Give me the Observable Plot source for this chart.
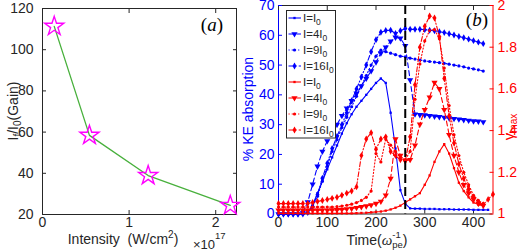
<!DOCTYPE html>
<html><head><meta charset="utf-8">
<script src="https://cdn.jsdelivr.net/npm/d3@7"></script>
<script src="https://cdn.jsdelivr.net/npm/@observablehq/plot@0.6"></script>
<style>
html,body{margin:0;padding:0;background:#fff;}
#wrap{position:relative;width:523px;height:251px;overflow:hidden;}
#wrap svg{position:absolute;left:0;top:0;}
</style></head><body><div id="wrap"></div>
<script>
// ---------- Panel (a) data ----------
const A_INTENSITY = [0.1355, 0.542, 1.22, 2.168];       // x 10^17 W/cm^2
const A_GAIN = [111.3, 58.4, 38.9, 24.4];
const A_XTICKS = [0, 1, 2];
const A_YTICKS = [20, 40, 60, 80, 100, 120];

// ---------- Panel (b) data ----------
const T = [0,10,20,30,40,50,60,70,80,90,100,110,120,130,140,150,160,170,180,190,200,210,220,230,240,250,260,270,280,290,300,310,320,330,340,350,360,370,380,390,400,410,420,430,440];
// % KE absorption (left axis)
const KE_I1  = [0,0,0,0,0,0,0.5,3,7,11,15,19,23,27,30.5,33.5,36,38,40,42,44,45.5,44,34,22,8,3.5,1.9,1.8,1.8,1.7,1.7,1.7,1.6,1.6,1.6,1.5,1.5,1.5,1.5,1.4,1.4,1.4,1.4];
const KE_I4  = [0,0,0,0,0,0.5,4,10,16,21,24.5,27.5,30,33,35.5,38,40.5,43,45.5,48,51,54,56,58,59.3,59,56.5,45,33.5,33.3,33.2,33,32.8,32.6,32.4,32.2,32,31.8,31.6,31.4,31.2,31.1,30.9];
const KE_I9  = [0,0,0,0,0,0,0.5,2.5,6,11,16,21,25,29,32.5,36,39.5,43,46.5,50,53,55,54.5,54,53.5,53,52.8,52.3,52,51.7,51.4,51.2,51,50.8,50.6,50.3,50,49.7,49.4,49,48.7,48.4,48];
const KE_I16 = [0,0,0,0,0,0,0.5,2.5,6.5,12,17,22,26,30,34,38,42,46,50,54.5,58.5,61,61.6,61.7,60.6,61.5,62.3,62,62,62,61.9,61.7,61.5,61.2,60.9,60.5,60.1,59.6,59.2,58.7,58.2,57.7,57.2];
// gamma_max (right axis)
const G_I1  = [1.003,1.003,1.003,1.003,1.003,1.003,1.003,1.003,1.003,1.003,1.003,1.003,1.003,1.003,1.003,1.003,1.004,1.005,1.006,1.008,1.01,1.012,1.016,1.022,1.03,1.04,1.055,1.07,1.085,1.1,1.14,1.185,1.25,1.3,1.335,1.29,1.22,1.15,1.11,1.08,1.055,1.045,1.04];
const G_I4  = [1.018,1.018,1.018,1.018,1.018,1.018,1.018,1.018,1.018,1.018,1.018,1.019,1.02,1.022,1.024,1.026,1.03,1.034,1.038,1.043,1.05,1.06,1.09,1.17,1.36,1.28,1.255,1.26,1.33,1.43,1.5,1.56,1.63,1.6,1.5,1.38,1.28,1.2,1.14,1.1,1.07,1.05,1.04];
const G_I9  = [1.033,1.033,1.033,1.033,1.033,1.033,1.033,1.033,1.033,1.033,1.033,1.033,1.035,1.038,1.042,1.047,1.055,1.065,1.08,1.11,1.29,1.25,1.36,1.33,1.3,1.27,1.26,1.3,1.55,1.72,1.83,1.88,1.885,1.84,1.7,1.52,1.38,1.28,1.2,1.14,1.09,1.065,1.05];
const G_I16 = [1.05,1.05,1.05,1.05,1.05,1.05,1.05,1.055,1.06,1.065,1.07,1.075,1.08,1.09,1.1,1.11,1.13,1.28,1.36,1.39,1.31,1.36,1.37,1.3,1.28,1.26,1.255,1.37,1.62,1.8,1.9,1.95,1.94,1.85,1.65,1.47,1.34,1.24,1.17,1.12,1.08,1.055,1.045,1.07,1.095];
const B_XTICKS = [0, 100, 200, 300, 400];
const B_LTICKS = [0, 10, 20, 30, 40, 50, 60, 70];
const B_RTICKS = [1, 1.2, 1.4, 1.6, 1.8, 2];
const T_MARK = [260];
const LEGEND_COEF = ["", "4", "9", "16"];

// ---------- styles ----------
const SANS = '"Liberation Sans", Arial, Helvetica, sans-serif';
const SERIF = '"Liberation Serif", "Times New Roman", serif';
const INK = "#262626";
const BLUE = "#0000ff", RED = "#ff0000";
const STY = [
  {dash: null,        symbol: "square",   r: 1.3, rotate: 0},
  {dash: "5,3",       symbol: "triangle", r: 2.3, rotate: 180},
  {dash: "1.2,2",     symbol: "circle",   r: 1.6, rotate: 0},
  {dash: "5,2,1.2,2", symbol: "diamond",  r: 2.1, rotate: 0}
];
const baseStyle = {background: "transparent", fontFamily: SANS, fontSize: "14px", color: INK, overflow: "visible"};
const W = 523, H = 251;
const wrap = document.getElementById("wrap");

function seriesMarks(vals, color, st) {
  const rows = vals.map((v, i) => ({t: T[i], v}));
  return [
    Plot.line(rows, {x: "t", y: "v", stroke: color, strokeWidth: 1.1, strokeDasharray: st.dash}),
    Plot.dot(rows, {x: "t", y: "v", symbol: st.symbol, r: st.r, fill: color, stroke: "none", rotate: st.rotate})
  ];
}

// ---------- Panel (a) ----------
const aRows = A_INTENSITY.map((x, i) => ({x, y: A_GAIN[i]}));
const plotA = Plot.plot({
  width: W, height: H,
  marginLeft: 42, marginRight: 287, marginTop: 8, marginBottom: 37,
  style: baseStyle,
  x: {domain: [0, 2.24]},
  y: {domain: [20, 120]},
  marks: [
    Plot.frame({stroke: INK}),
    Plot.axisX({ticks: A_XTICKS, tickSize: -4, tickPadding: 7, label: null, tickFormat: d => String(d)}),
    Plot.axisX({anchor: "top", ticks: A_XTICKS, tickSize: -4, tickFormat: () => "", label: null}),
    Plot.axisY({ticks: A_YTICKS, tickSize: -4, tickPadding: 13, label: null, tickFormat: d => String(d)}),
    Plot.axisY({anchor: "right", ticks: A_YTICKS, tickSize: -4, tickFormat: () => "", label: null}),
    Plot.line(aRows, {x: "x", y: "y", stroke: "#48b03c", strokeWidth: 1.3}),
    Plot.dot(aRows, {x: "x", y: "y", symbol: "star", r: 6, stroke: "#ff00ff", strokeWidth: 1.4, fill: "none"})
  ]
});
wrap.appendChild(plotA);

// ---------- Panel (b), left axis (blue) ----------
const KE = [KE_I1, KE_I4, KE_I9, KE_I16];
const G = [G_I1, G_I4, G_I9, G_I16];
const bMargins = {marginLeft: 278, marginRight: 30.5, marginTop: 5, marginBottom: 37.5};
const plotB1 = Plot.plot({
  width: W, height: H, ...bMargins,
  style: baseStyle,
  x: {domain: [0, 440]},
  y: {domain: [0, 70]},
  marks: [
    Plot.ruleY([0, 70], {stroke: INK}),
    Plot.ruleX([0], {stroke: BLUE}),
    Plot.axisX({ticks: B_XTICKS, tickSize: -4, tickPadding: 7, label: null, tickFormat: d => String(d)}),
    Plot.axisX({anchor: "top", ticks: B_XTICKS, tickSize: -4, tickFormat: () => "", label: null}),
    Plot.axisY({ticks: B_LTICKS, tickSize: -4, tickPadding: 8, label: null, color: BLUE, tickFormat: d => String(d)}),
    ...KE.flatMap((vals, k) => seriesMarks(vals, BLUE, STY[k]))
  ]
});
wrap.appendChild(plotB1);

// ---------- Panel (b), right axis (red) ----------
const plotB2 = Plot.plot({
  width: W, height: H, ...bMargins,
  style: baseStyle,
  x: {domain: [0, 440], axis: null},
  y: {domain: [1, 2], axis: null},
  marks: [
    Plot.ruleX([440], {stroke: RED}),
    Plot.axisY({anchor: "right", ticks: B_RTICKS, tickSize: -4, tickPadding: 8.5, label: null, color: RED, tickFormat: d => String(d)}),
    ...G.flatMap((vals, k) => seriesMarks(vals, RED, STY[k])),
    Plot.ruleX(T_MARK, {stroke: "#000", strokeWidth: 2, strokeDasharray: "9,4"})
  ]
});
wrap.appendChild(plotB2);

// ---------- Overlay: axis titles, panel letters, legend ----------
const ov = d3.select(wrap).append("svg").attr("width", W).attr("height", H)
  .style("font-family", SANS).style("overflow", "visible");

// panel (a) titles
const ya = ov.append("text").attr("transform", "translate(18,111) rotate(-90)")
  .attr("text-anchor", "middle").attr("font-size", 14).attr("fill", INK);
ya.append("tspan").text("I");
ya.append("tspan").attr("font-size", 10).attr("dy", 3).text("f");
ya.append("tspan").attr("dy", -3).text("/I");
ya.append("tspan").attr("font-size", 10).attr("dy", 3).text("0");
ya.append("tspan").attr("dy", -3).text("(Gain)");

const xa = ov.append("text").attr("x", 123).attr("y", 243.5).attr("text-anchor", "middle")
  .attr("font-size", 14).attr("fill", INK);
xa.append("tspan").text("Intensity\u00a0\u00a0(W/cm");
xa.append("tspan").attr("font-size", 10).attr("dy", -6).text("2");
xa.append("tspan").attr("dy", 6).text(")");

const ex = ov.append("text").attr("x", 193).attr("y", 249).attr("font-size", 13).attr("fill", INK);
ex.append("tspan").text("\u00d710");
ex.append("tspan").attr("font-size", 9.5).attr("dy", -10).text("17");

const la = ov.append("text").attr("x", 223).attr("y", 31).attr("text-anchor", "end")
  .attr("font-family", SERIF).attr("font-size", 19).attr("fill", "#000");
la.append("tspan").text("(");
la.append("tspan").attr("font-style", "italic").text("a");
la.append("tspan").text(")");

// panel (b) titles
ov.append("text").attr("transform", "translate(253,109) rotate(-90)")
  .attr("text-anchor", "middle").attr("font-size", 14).attr("fill", BLUE).text("% KE absorption");

const gl = ov.append("text").attr("transform", "translate(514,127) rotate(-90)")
  .attr("text-anchor", "middle").attr("font-size", 14).attr("fill", RED);
gl.append("tspan").attr("font-size", 15).text("\u03b3");
gl.append("tspan").attr("font-size", 10).attr("dy", 3).text("max");

const xb = ov.append("text").attr("x", 377).attr("y", 245).attr("text-anchor", "middle")
  .attr("font-size", 14).attr("fill", INK);
xb.append("tspan").text("Time(");
xb.append("tspan").attr("font-style", "italic").attr("font-family", SERIF).attr("font-size", 15).text("\u03c9");
xb.append("tspan").attr("font-size", 9.5).attr("dy", -7).text("-1");
xb.append("tspan").attr("font-size", 9.5).attr("dy", 10).attr("dx", -8.5).text("pe");
xb.append("tspan").attr("dy", -3).text(")");

const lb = ov.append("text").attr("x", 488).attr("y", 26).attr("text-anchor", "end")
  .attr("font-family", SERIF).attr("font-size", 19).attr("fill", "#000");
lb.append("tspan").text("(");
lb.append("tspan").attr("font-style", "italic").text("b");
lb.append("tspan").text(")");

// legend
const lg = ov.append("g");
lg.append("rect").attr("x", 286.5).attr("y", 10.5).attr("width", 49).attr("height", 127.5)
  .attr("fill", "#fff").attr("stroke", INK).attr("stroke-width", 1);
const symMap = {square: d3.symbolSquare, triangle: d3.symbolTriangle, circle: d3.symbolCircle, diamond: d3.symbolDiamond};
const entries = [];
[BLUE, RED].forEach(color => LEGEND_COEF.forEach((c, k) => entries.push({color, c, st: STY[k]})));
entries.forEach((e, i) => {
  const y = 18 + i * 16;
  lg.append("line").attr("x1", 288.5).attr("x2", 301).attr("y1", y).attr("y2", y)
    .attr("stroke", e.color).attr("stroke-width", 1.1).attr("stroke-dasharray", e.st.dash);
  lg.append("path").attr("d", d3.symbol(symMap[e.st.symbol], Math.PI * e.st.r * e.st.r)())
    .attr("transform", `translate(294.5,${y}) rotate(${e.st.rotate})`).attr("fill", e.color);
  const tx = lg.append("text").attr("x", 303).attr("y", y + 4).attr("font-size", 11.5).attr("fill", INK);
  tx.append("tspan").text("I=" + e.c + "I");
  tx.append("tspan").attr("font-size", 8.5).attr("dy", 2.5).text("0");
});
</script></body></html>
